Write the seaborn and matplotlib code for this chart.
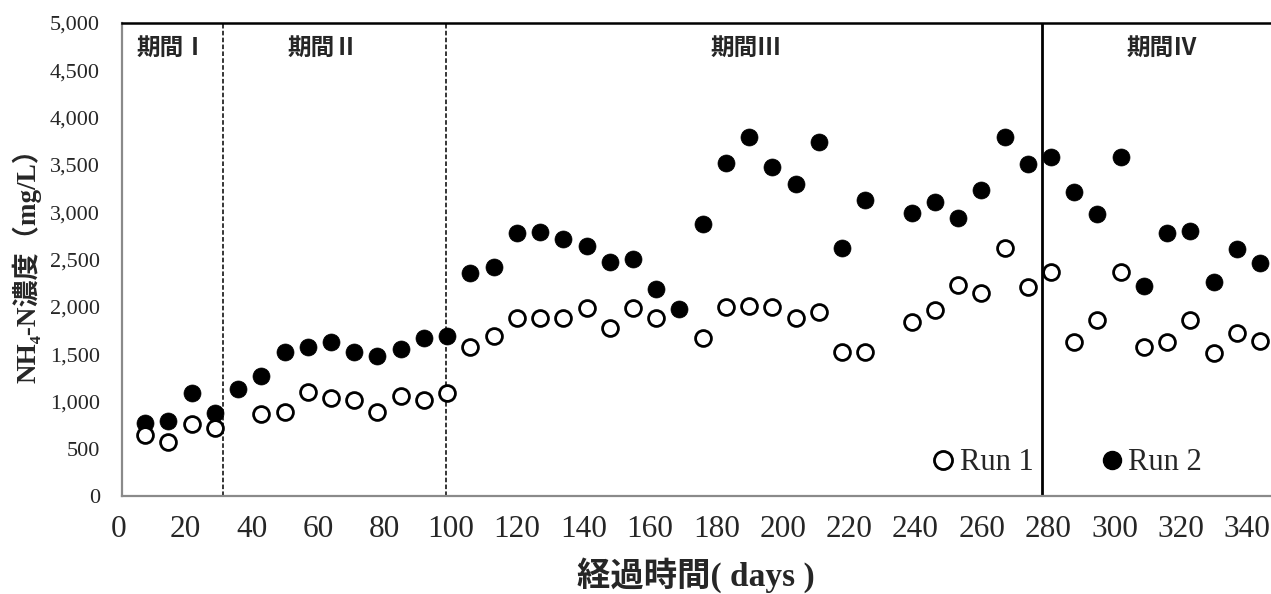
import numpy as np
import pandas as pd
import matplotlib
matplotlib.use("Agg")
import matplotlib.pyplot as plt
import matplotlib.transforms as mtransforms
from matplotlib.lines import Line2D
from matplotlib.ticker import FuncFormatter
import seaborn as sns

# Sampling days (weekly) and NH4-N concentrations (mg/L); nan = no measurement
days = list(range(7, 344, 7))
run1 = [645, 567, 761, 715, np.nan, 867, 884, 1096, 1032, 1015, 884, 1057, 1015, 1085,
        1572, 1695, 1878, 1878, 1878, 1984, 1773, 1984, 1878, np.nan, 1672, 2001, 2012,
        2001, 1878, 1942, 1517, 1517, np.nan, 1840, 1966, 2230, 2149, 2625, 2206, 2371,
        1625, 1860, 2371, 1572, 1631, 1860, 1515, 1720, 1638]
run2 = [775, 795, 1085, 875, 1130, 1270, 1525, 1570, 1630, 1525, 1475, 1555, 1675, 1695,
        2355, 2425, 2775, 2795, 2715, 2645, 2475, 2505, 2190, 1980, 2870, 3525, 3795,
        3480, 3295, 3740, 2625, 3125, np.nan, 2995, 3110, 2935, 3235, 3795, 3510, 3587,
        3217, 2978, 3587, 2223, 2783, 2805, 2265, 2608, 2466]

# Operating periods: boundaries (days) and labels with their positions
period_bounds = [30.5, 97.7, 277.4]
period_labels = ["期間Ⅰ", "期間Ⅱ", "期間Ⅲ", "期間Ⅳ"]
period_label_x = [15, 60.5, 188, 313.5]
period_label_y = 4740

x_ticks = list(range(0, 341, 20))
y_ticks = list(range(0, 5001, 500))

sns.set_theme(style="white")
plt.rcParams["font.family"] = ["Liberation Serif", "Noto Sans CJK JP", "DejaVu Sans"]

df = pd.DataFrame({"day": days, "Run 1": run1, "Run 2": run2})

fig = plt.figure(figsize=(12.71, 5.94), dpi=100)
ax = fig.add_axes([122 / 1271, 1 - 496 / 594, 1148 / 1271, 473 / 594])

# Period boundaries
ax.axvline(period_bounds[0], color="black", lw=1.1, ls=(0, (3, 1.5)), zorder=1)
ax.axvline(period_bounds[1], color="black", lw=1.1, ls=(0, (3, 1.5)), zorder=1)
ax.axvline(period_bounds[2], color="black", lw=2.0, ls="-", zorder=1)

sns.scatterplot(data=df, x="day", y="Run 2", ax=ax, marker="o", s=150,
                color="black", edgecolor="black", linewidth=0.5, zorder=3, legend=False)
sns.scatterplot(data=df, x="day", y="Run 1", ax=ax, marker="o", s=130,
                facecolor="white", edgecolor="black", linewidth=2.0, zorder=4, legend=False)

for lab, lx in zip(period_labels, period_label_x):
    ax.text(lx, period_label_y, lab, ha="center", va="center", fontsize=17,
            fontweight="bold", family=["Noto Sans CJK JP"])

ax.set_xlim(0, 346)
ax.set_ylim(0, 5000)
ax.set_xticks(x_ticks)
ax.set_yticks(y_ticks)
ax.yaxis.set_major_formatter(FuncFormatter(lambda v, p: f"{int(v):,}"))
ax.tick_params(axis="x", length=0, pad=14, labelsize=22.5)
ax.tick_params(axis="y", length=0, pad=16, labelsize=16)
shift = mtransforms.ScaledTranslation(-3 / 100, 0, fig.dpi_scale_trans)
for lbl in ax.get_xticklabels():
    lbl.set_transform(lbl.get_transform() + shift)

for side in ["left", "bottom"]:
    ax.spines[side].set_color("#8a8a8a")
    ax.spines[side].set_linewidth(1.6)
ax.spines["top"].set_color("black")
ax.spines["top"].set_linewidth(1.8)
ax.spines["right"].set_visible(False)

ax.set_xlabel("経過時間( days )", fontsize=24, fontweight="bold")
ax.xaxis.set_label_coords(0.5, -0.13)
ax.set_ylabel("NH₄-N濃度（mg/L）", fontsize=19.5, fontweight="bold")
ax.yaxis.set_label_coords(-0.07, 0.5)

handles = [
    Line2D([], [], ls="none", marker="o", markersize=13, markerfacecolor="white",
           markeredgecolor="black", markeredgewidth=2.0, label="Run 1"),
    Line2D([], [], ls="none", marker="o", markersize=13, markerfacecolor="black",
           markeredgecolor="black", label="Run 2"),
]
ax.legend(handles=handles, ncol=2, frameon=False, loc="center left",
          bbox_to_anchor=(0.706, 0.07), borderaxespad=0, borderpad=0,
          handlelength=0.7, handletextpad=0.2, columnspacing=2.2,
          prop={"family": "Liberation Serif", "size": 22})

fig.savefig("out.png", dpi=100)
